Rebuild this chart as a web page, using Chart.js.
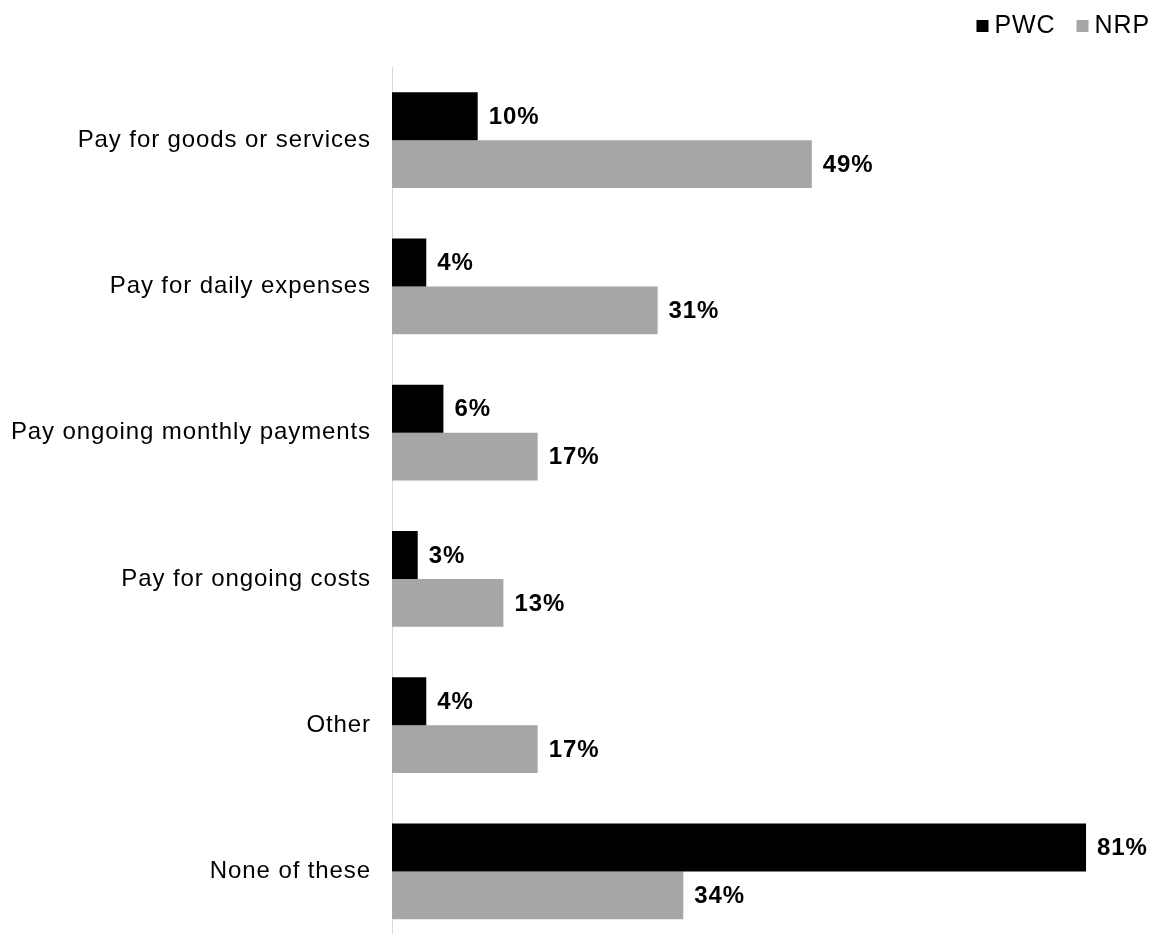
<!DOCTYPE html>
<html>
<head>
<meta charset="utf-8">
<script src="https://cdn.jsdelivr.net/npm/chart.js@4.4.1/dist/chart.umd.min.js"></script>
<style>
  html, body { margin: 0; padding: 0; background: #fff; overflow: hidden; }
  canvas { display: block; }
</style>
</head>
<body>
<canvas id="chart" width="1152" height="980"></canvas>
<script>
// categories and series
const categories = [
  'Pay for goods or services',
  'Pay for daily expenses',
  'Pay ongoing monthly payments',
  'Pay for ongoing costs',
  'Other',
  'None of these'
];
const seriesNames = ['PWC', 'NRP'];
const pwcValues = [10, 4, 6, 3, 4, 81];
const nrpValues = [49, 31, 17, 13, 17, 34];

const FONT = "'Liberation Sans', Arial, sans-serif";

// slightly wider tracking for all canvas text
const tracking = {
  id: 'tracking',
  beforeDraw(chart) { chart.ctx.letterSpacing = '0.9px'; }
};

// value labels at the end of each bar
const barLabels = {
  id: 'barLabels',
  afterDatasetsDraw(chart) {
    const ctx = chart.ctx;
    ctx.save();
    ctx.font = 'bold 24px ' + FONT;
    ctx.fillStyle = '#000';
    ctx.textBaseline = 'middle';
    ctx.textAlign = 'left';
    chart.data.datasets.forEach((ds, i) => {
      chart.getDatasetMeta(i).data.forEach((bar, j) => {
        ctx.fillText(ds.data[j] + '%', bar.x + 11, bar.y + 1);
      });
    });
    ctx.restore();
  }
};

// small square legend, right aligned at the top
const topLegend = {
  id: 'topLegend',
  afterDraw(chart) {
    const ctx = chart.ctx;
    ctx.save();
    ctx.font = '25px ' + FONT;
    ctx.textBaseline = 'alphabetic';
    ctx.textAlign = 'left';
    const box = 12, gap = 6, spacing = 21, baseline = 33;
    const items = chart.data.datasets.map(ds => ({
      text: ds.label,
      color: ds.backgroundColor,
      w: ctx.measureText(ds.label).width
    }));
    let x = 1150;
    for (let i = items.length - 1; i >= 0; i--) {
      x -= items[i].w;
      items[i].tx = x;
      x -= gap + box;
      items[i].bx = x;
      x -= spacing;
    }
    items.forEach(it => {
      ctx.fillStyle = it.color;
      ctx.fillRect(it.bx, 20, box, box);
      ctx.fillStyle = '#000';
      ctx.fillText(it.text, it.tx, baseline);
    });
    ctx.restore();
  }
};

const chart = new Chart(document.getElementById('chart'), {
  type: 'bar',
  data: {
    labels: categories,
    datasets: [
      { label: seriesNames[0], data: pwcValues, backgroundColor: '#000000' },
      { label: seriesNames[1], data: nrpValues, backgroundColor: '#a6a6a6' }
    ]
  },
  options: {
    indexAxis: 'y',
    responsive: false,
    animation: false,
    categoryPercentage: 0.655,
    barPercentage: 1,
    layout: { padding: { top: 67, right: 0, left: 0, bottom: 4 } },
    scales: {
      x: { display: false, min: 0, max: 88.7 },
      y: {
        afterFit(scale) { scale.width = 392; },
        grid: { drawOnChartArea: false, drawTicks: false },
        border: { display: true, color: '#d9d9d9', width: 1 },
        ticks: { color: '#000', padding: 21, font: { family: FONT, size: 24 } }
      }
    },
    plugins: {
      legend: { display: false },
      tooltip: { enabled: false }
    }
  },
  plugins: [tracking, barLabels, topLegend]
});
</script>
</body>
</html>
